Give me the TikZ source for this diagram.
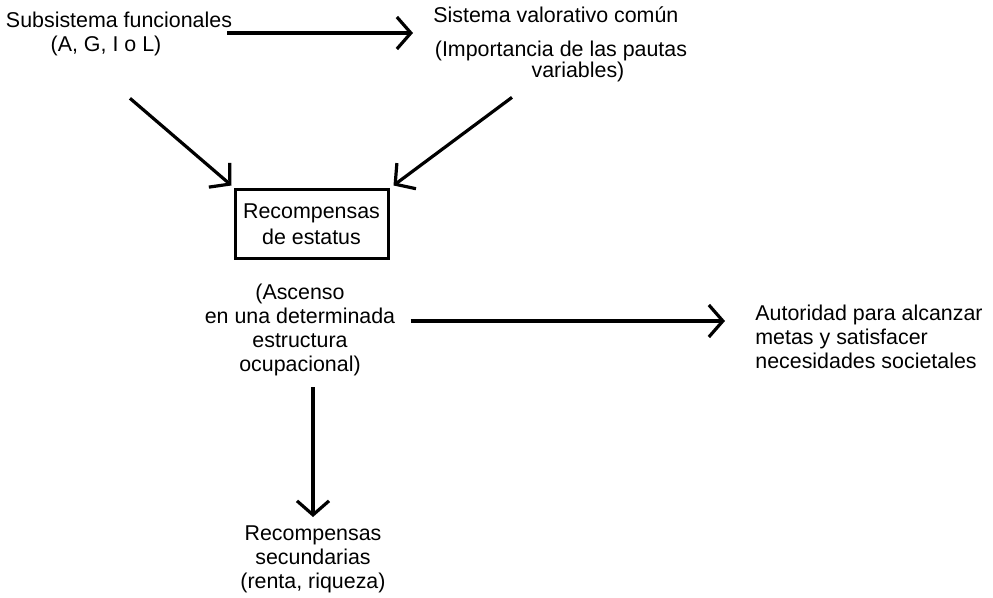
\documentclass[tikz,border=0pt]{standalone}
\usepackage{fontspec}
\setmainfont{Liberation Sans}
\usetikzlibrary{arrows.meta}

\begin{document}
\begin{tikzpicture}[x=0.5pt,y=-0.5pt,
  every node/.style={font=\fontsize{10.7}{12}\selectfont, inner sep=0pt},
  texto/.style={align=center},
  caja/.style={draw, line width=1.5pt, minimum width=76.5pt, minimum height=34.5pt, align=center},
  flecha/.style={line width=1.6pt, -{Straight Barb[length=7pt,width=16pt]}}]
  \useasboundingbox (0,0) rectangle (993,598);
  % nodos
  \node[anchor=base] (subsis) at (119,28) {Subsistema funcionales};
  \node[anchor=base] (agil) at (106,52) {(A, G, I o L)};
  \node[anchor=base west] (sisval) at (433,23) {Sistema valorativo común};
  \node[texto] (pautas) at (561,61.5) {(Importancia de las pautas\\[-1.5pt]\hspace*{17pt}variables)};
  \node[caja] (recomp) at (311.5,224.5) {Recompensas\\[1pt]de estatus};
  \node[texto] (ascenso) at (300,330) {(Ascenso\\en una determinada\\estructura\\ocupacional)};
  \node[align=left, anchor=west] (autor) at (755,337) {Autoridad para alcanzar\\metas y satisfacer\\necesidades societales};
  \node[texto] (secund) at (313,559) {Recompensas\\secundarias\\(renta, riqueza)};
  % flechas
  \draw[flecha] ([shift={(-5,5)}]subsis.base east) -- ([shift={(-20,10)}]sisval.base west);
  \draw[flecha] ([shift={(24,41.5)}]agil.south) -- ([shift={(-2,-3)}]recomp.north west);
  \draw[flecha] ([shift={(-49,15)}]pautas.south) -- ([shift={(4,-3)}]recomp.north east);
  \draw[flecha] ([shift={(15,-9)}]ascenso.east) -- ([shift={(-30,-16)}]autor.west);
  \draw[flecha] ([shift={(13,11)}]ascenso.south) -- ([shift={(0,-8)}]secund.north);
\end{tikzpicture}
\end{document}
